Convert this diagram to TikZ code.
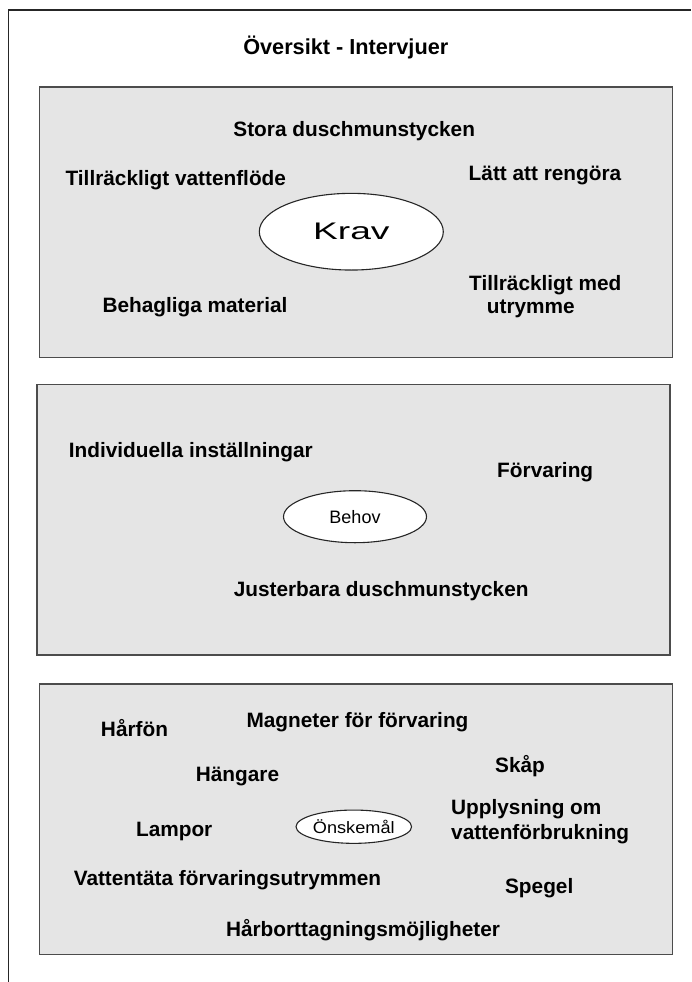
\documentclass[tikz,border=0pt]{standalone}
\usepackage{fontspec}
\setmainfont{Liberation Sans}
\usetikzlibrary{shapes.geometric}

\begin{document}
\begin{tikzpicture}
  [x=1pt,y=-1pt,
   every node/.style={font=\fontsize{20.8}{24}\selectfont\bfseries,inner sep=0pt},
   box/.style={draw=black!70,line width=1.3pt,fill=black!10},
   oval/.style={ellipse,draw=black!85,line width=1.1pt,fill=white}]
  \useasboundingbox (0,0) rectangle (691,982);
  \draw[line width=1.6pt,black!85] (8.5,982) -- (8.5,10) -- (691,10);

  \foreach \l/\t/\r/\b in {39.3/87/672.5/357.7,37/384.3/670/655,39.3/684/672.3/954.3}
    \draw[box] (\l,\t) rectangle (\r,\b);

  \node[anchor=base,font=\fontsize{21.7}{24}\selectfont\bfseries] (title) at (345.8,55) {Översikt - Intervjuer};

  % Krav
  \node[oval,minimum width=184pt,minimum height=76.7pt] (krav) at (351.3,231.7)
    {\fontsize{24}{24}\mdseries\selectfont\scalebox{1.55}[1]{Krav}};
  \node[anchor=base] (k1) at (354.2,136.7) {Stora duschmunstycken};
  \node[anchor=base] (k2) at (175.8,185.7) {Tillräckligt vattenflöde};
  \node[anchor=base] (k3) at (545,180) {Lätt att rengöra};
  \node[anchor=base] (k4) at (195,312.3) {Behagliga material};
  \node[anchor=base west,align=left,font=\fontsize{20.8}{22.6}\selectfont\bfseries] (k5) at (469,313.3)
    {Tillräckligt med\\\hspace*{17.7pt}utrymme};

  % Behov
  \node[oval,minimum width=143pt,minimum height=52pt] (behov) at (355,516.7)
    {\fontsize{18}{18}\mdseries\selectfont Behov};
  \node[anchor=base] (b1) at (190.8,457.7) {Individuella inställningar};
  \node[anchor=base] (b2) at (545.2,477.3) {Förvaring};
  \node[anchor=base] (b3) at (381.2,596) {Justerbara duschmunstycken};

  % Önskemål
  \node[oval,minimum width=104.3pt,minimum height=33.3pt] (onske) at (353.8,826.7)
    {\fontsize{16.5}{16.5}\mdseries\selectfont\scalebox{1.1}[1]{Önskemål}};
  \node[anchor=base] (o1) at (134.5,736) {Hårfön};
  \node[anchor=base] (o2) at (357.5,727.7) {Magneter för förvaring};
  \node[anchor=base] (o3) at (237.5,781) {Hängare};
  \node[anchor=base] (o4) at (520,772.7) {Skåp};
  \node[anchor=base west,align=left,font=\fontsize{20.8}{25}\selectfont\bfseries] (o5) at (451,839)
    {Upplysning om\\vattenförbrukning};
  \node[anchor=base] (o6) at (174.2,836) {Lampor};
  \node[anchor=base] (o7) at (227.5,885) {Vattentäta förvaringsutrymmen};
  \node[anchor=base] (o8) at (539.2,893.3) {Spegel};
  \node[anchor=base] (o9) at (363,936.7) {Hårborttagningsmöjligheter};

\end{tikzpicture}
\end{document}
